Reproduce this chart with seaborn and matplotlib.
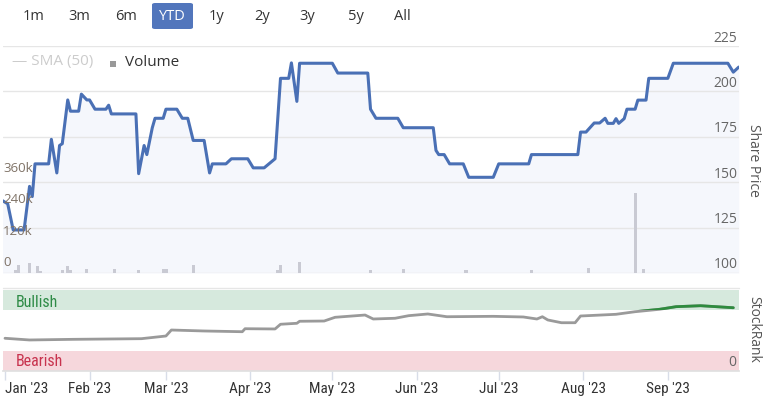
import matplotlib
matplotlib.use("Agg")
import matplotlib.pyplot as plt
import matplotlib.dates as mdates
from matplotlib import font_manager, transforms
from matplotlib.patches import Rectangle, FancyBboxPatch
from matplotlib.lines import Line2D
import numpy as np
import pandas as pd
import seaborn as sns

# ---------------- data ----------------
price_dates = ["2022-12-31", "2023-01-02", "2023-01-04", "2023-01-08", "2023-01-10", "2023-01-11",
               "2023-01-12", "2023-01-17", "2023-01-18", "2023-01-20", "2023-01-21", "2023-01-22",
               "2023-01-24", "2023-01-25", "2023-01-28", "2023-01-29", "2023-01-31", "2023-02-01",
               "2023-02-03", "2023-02-07", "2023-02-08", "2023-02-09", "2023-02-18", "2023-02-19",
               "2023-02-21", "2023-02-22", "2023-02-24", "2023-02-25", "2023-02-28", "2023-03-01",
               "2023-03-05", "2023-03-07", "2023-03-09", "2023-03-11", "2023-03-15", "2023-03-17",
               "2023-03-18", "2023-03-23", "2023-03-25", "2023-03-31", "2023-04-02", "2023-04-06",
               "2023-04-10", "2023-04-12", "2023-04-15", "2023-04-16", "2023-04-18", "2023-04-19",
               "2023-05-01", "2023-05-03", "2023-05-14", "2023-05-15", "2023-05-17", "2023-05-25",
               "2023-05-27", "2023-06-07", "2023-06-08", "2023-06-09", "2023-06-11", "2023-06-13",
               "2023-06-18", "2023-06-20", "2023-06-29", "2023-07-01", "2023-07-12", "2023-07-13",
               "2023-07-30", "2023-07-31", "2023-08-02", "2023-08-05", "2023-08-07", "2023-08-09",
               "2023-08-10", "2023-08-12", "2023-08-13", "2023-08-14", "2023-08-16", "2023-08-17",
               "2023-08-20", "2023-08-21", "2023-08-24", "2023-08-25", "2023-09-01", "2023-09-03",
               "2023-09-23", "2023-09-25", "2023-09-27"]
price_values = [139.9, 138.1, 123.7, 123.7, 147.7, 142.1,
                160.1, 160.1, 173.6, 155.1, 170.2, 171.2,
                195.3, 189.1, 189.1, 198.5, 195.3, 195.3,
                190.2, 190.2, 192.4, 187.6, 187.6, 154.7,
                170.2, 165.2, 180.0, 185.2, 185.2, 190.2,
                190.2, 185.2, 185.2, 173.0, 173.0, 155.1,
                160.1, 160.1, 162.9, 162.9, 157.9, 157.9,
                162.9, 207.2, 207.2, 215.7, 194.5, 215.5,
                215.5, 210.1, 210.1, 190.2, 185.2, 185.2,
                180.0, 180.0, 167.5, 165.2, 165.2, 160.1,
                160.1, 152.7, 152.7, 160.1, 160.1, 165.2,
                165.2, 177.6, 177.6, 182.6, 182.6, 185.2,
                182.4, 182.4, 185.0, 182.4, 185.0, 190.2,
                190.2, 195.2, 195.2, 207.2, 207.2, 215.5,
                215.5, 210.6, 213.4]

volume_dates = ["2023-01-05", "2023-01-06", "2023-01-10", "2023-01-13", "2023-01-14", "2023-01-22",
                "2023-01-24", "2023-01-25", "2023-01-31", "2023-02-10", "2023-02-19", "2023-02-28",
                "2023-03-01", "2023-03-11", "2023-04-11", "2023-04-12", "2023-04-19", "2023-05-15",
                "2023-05-27", "2023-06-19", "2023-07-13", "2023-08-03", "2023-08-20", "2023-08-23"]
volume_values = [12000, 32000, 39000, 27000, 8000, 12000,
                 27000, 12000, 17000, 17000, 13000, 17000,
                 17000, 30000, 12000, 30000, 43000, 10000,
                 15000, 12000, 12000, 19000, 305000, 17000]

rank_dates = ["2023-01-01", "2023-01-10", "2023-01-26", "2023-02-20", "2023-03-01", "2023-03-03",
              "2023-03-15", "2023-03-29", "2023-03-30", "2023-04-10", "2023-04-12", "2023-04-18",
              "2023-04-19", "2023-04-28", "2023-05-02", "2023-05-13", "2023-05-16", "2023-05-24",
              "2023-05-29", "2023-06-05", "2023-06-12", "2023-06-29", "2023-07-10", "2023-07-15",
              "2023-07-17", "2023-07-19", "2023-07-24", "2023-07-29", "2023-07-31", "2023-08-13",
              "2023-08-20", "2023-08-29", "2023-09-04", "2023-09-13", "2023-09-25"]
rank_values = [40.4, 38.3, 39.1, 39.9, 43.2, 50.6,
               49.4, 48.5, 52.2, 51.9, 57.7, 58.9,
               61.4, 61.7, 66.3, 69.1, 64.2, 65.1,
               68.3, 70.4, 67.0, 67.5, 66.7, 64.2,
               67.0, 63.0, 59.6, 59.6, 67.9, 70.0,
               73.2, 76.2, 79.4, 80.6, 78.1]

price_ticks = [100, 125, 150, 175, 200, 225]
volume_ticks = [0, 120000, 240000, 360000]
volume_tick_labels = ["0", "120k", "240k", "360k"]
month_ticks = ["2023-01-01", "2023-02-01", "2023-03-01", "2023-04-01", "2023-05-01",
               "2023-06-01", "2023-07-01", "2023-08-01", "2023-09-01"]
month_labels = ["Jan '23", "Feb '23", "Mar '23", "Apr '23", "May '23",
                "Jun '23", "Jul '23", "Aug '23", "Sep '23"]
range_buttons = ["1m", "3m", "6m", "YTD", "1y", "2y", "3y", "5y", "All"]
selected_button = "YTD"

# ---------------- style ----------------
sns.set_theme(style="white")
names = {f.name for f in font_manager.fontManager.ttflist}
main_font = "Open Sans" if "Open Sans" in names else "DejaVu Sans"
plt.rcParams["font.family"] = [main_font, "DejaVu Sans"]

narrow_fp = None
for cand in ["Liberation Sans Narrow", "Roboto Condensed", "Open Sans Condensed"]:
    if cand in names:
        narrow_fp = font_manager.FontProperties(family=cand)
        break
if narrow_fp is None:
    if any(f.name == "DejaVu Sans" and str(f.stretch) == "condensed" for f in font_manager.fontManager.ttflist):
        narrow_fp = font_manager.FontProperties(family="DejaVu Sans", stretch="condensed")
    elif "Lato" in names:
        narrow_fp = font_manager.FontProperties(family="Lato")
    else:
        narrow_fp = font_manager.FontProperties(family="DejaVu Sans")

W, H = 772, 397
def fx(px):
    return px / W
def fy(py):
    return 1 - py / H

fig = plt.figure(figsize=(W / 100, H / 100), dpi=100)
fig.patch.set_facecolor("white")

pdates = pd.to_datetime(price_dates)
vdates = pd.to_datetime(volume_dates)
rdates = pd.to_datetime(rank_dates)
d0 = mdates.date2num(pd.Timestamp("2023-01-01"))
xlo, xhi = d0 - 0.73, d0 + 268.9

# ---------------- price panel ----------------
ax = fig.add_axes([fx(3), fy(273), (738.5 - 3) / W, (273 - 46) / H])
ax.fill_between(pdates, price_values, 100, color="#f5f7fc", lw=0, zorder=0)
sns.lineplot(x=pdates, y=price_values, ax=ax, color="#4a70b5", linewidth=2.2, zorder=3)
ax.set_ylim(100, 225)
ax.set_xlim(xlo, xhi)
ax.set_yticks(price_ticks)
ax.yaxis.grid(True, color="#e6e6e6", lw=1)
ax.xaxis.grid(False)
ax.set_xlabel("")
ax.set_ylabel("")
for s in ax.spines.values():
    s.set_visible(False)

axv = ax.twinx()
axv.bar(vdates, volume_values, width=1.15, color="#c9cad3", lw=0, zorder=2)
axv.set_ylim(0, 870000)
axv.set_yticks([])
axv.set_ylabel("")
for s in axv.spines.values():
    s.set_visible(False)
# twinx re-enables left ticks on the host axes, so switch them off afterwards
ax.tick_params(axis="both", left=False, right=False, bottom=False, top=False,
               labelleft=False, labelright=False, labelbottom=False, length=0)
axv.tick_params(axis="both", left=False, right=False, length=0,
                labelleft=False, labelright=False)

ptrans = transforms.offset_copy(transforms.blended_transform_factory(ax.transAxes, ax.transData),
                                fig=fig, x=-1, y=8, units="dots")
for v in price_ticks:
    ax.text(1.0, v, str(v), transform=ptrans, ha="right", va="center",
            fontsize=10, color="#666666", clip_on=False)

vtrans = transforms.offset_copy(transforms.blended_transform_factory(axv.transAxes, axv.transData),
                                fig=fig, x=0, y=10.5, units="dots")
for v, lab in zip(volume_ticks, volume_tick_labels):
    axv.text(0.0, v, lab, transform=vtrans, ha="left", va="center",
             fontsize=9.5, color="#7f7266", clip_on=False)

fig.text(fx(753), fy(160), "Share Price", rotation=270, ha="center", va="center",
         fontsize=10, color="#555555")

# legend
fig.text(fx(12), fy(62), "— SMA (50)", ha="left", va="center", fontsize=11, color="#cccccc")
fig.add_artist(Rectangle((fx(110), fy(67)), 6 / W, 6 / H, transform=fig.transFigure,
                         color="#999999", lw=0))
fig.text(fx(125), fy(62), "Volume", ha="left", va="center", fontsize=11, color="#333333")

# range buttons
button_x = [34, 79, 126, 172, 217, 262, 307, 356, 402]
fig.add_artist(FancyBboxPatch((fx(152), fy(29)), 41 / W, 26 / H,
                              boxstyle="round,pad=0,rounding_size=0.004",
                              transform=fig.transFigure, facecolor="#5276bc", edgecolor="none"))
for lab, bx in zip(range_buttons, button_x):
    fig.text(fx(bx), fy(16), lab, ha="center", va="center", fontsize=10.5,
             color="white" if lab == selected_button else "#333333")

# ---------------- StockRank panel ----------------
axr = fig.add_axes([fx(3), fy(371), (738.5 - 3) / W, 81 / H])
axr.axhspan(75, 100, color="#d6e9dd", lw=0, zorder=0)
axr.axhspan(0, 25, color="#f6d7dc", lw=0, zorder=0)
sns.lineplot(x=rdates, y=rank_values, ax=axr, color="#9a9a9a", linewidth=2, zorder=3)
sns.lineplot(x=rdates, y=rank_values, ax=axr, color="#2e8b3e", linewidth=2, zorder=4)
green_line = axr.lines[-1]
clip_rect = Rectangle((xlo, 75), xhi - xlo, 25, transform=axr.transData)
green_line.set_clip_path(clip_rect)
axr.set_ylim(0, 100)
axr.set_xlim(xlo, xhi)
axr.set_yticks([])
axr.set_xlabel("")
axr.set_ylabel("")
axr.set_xticks(pd.to_datetime(month_ticks))
axr.set_xticklabels(month_labels, fontproperties=narrow_fp, fontsize=11, color="#333333")
axr.get_xticklabels()[0].set_ha("left")
axr.tick_params(axis="x", direction="out", length=6.5, width=1, color="#d8dde8", pad=1.5, bottom=True)
axr.tick_params(axis="y", left=False, right=False)
for k, s in axr.spines.items():
    s.set_visible(k == "bottom")
axr.spines["bottom"].set_color("#e0e0e0")

axr.text(0.0177, 85, "Bullish", transform=transforms.blended_transform_factory(axr.transAxes, axr.transData),
         ha="left", va="center", fontproperties=narrow_fp, fontsize=11.5, color="#2e8b46")
axr.text(0.0177, 11.5, "Bearish", transform=transforms.blended_transform_factory(axr.transAxes, axr.transData),
         ha="left", va="center", fontproperties=narrow_fp, fontsize=11.5, color="#c8334e")
rtrans = transforms.offset_copy(transforms.blended_transform_factory(axr.transAxes, axr.transData),
                                fig=fig, x=-2, y=8, units="dots")
axr.text(1.0, 0, "0", transform=rtrans, ha="right", va="center", fontsize=10, color="#666666")

fig.text(fx(754), fy(329), "StockRank", rotation=270, ha="center", va="center",
         fontsize=10, color="#555555")
fig.add_artist(Line2D([fx(3), fx(739)], [fy(287.5), fy(287.5)], transform=fig.transFigure,
                      color="#e6e6e6", lw=1))

fig.savefig("out.png", dpi=100, facecolor="white")
